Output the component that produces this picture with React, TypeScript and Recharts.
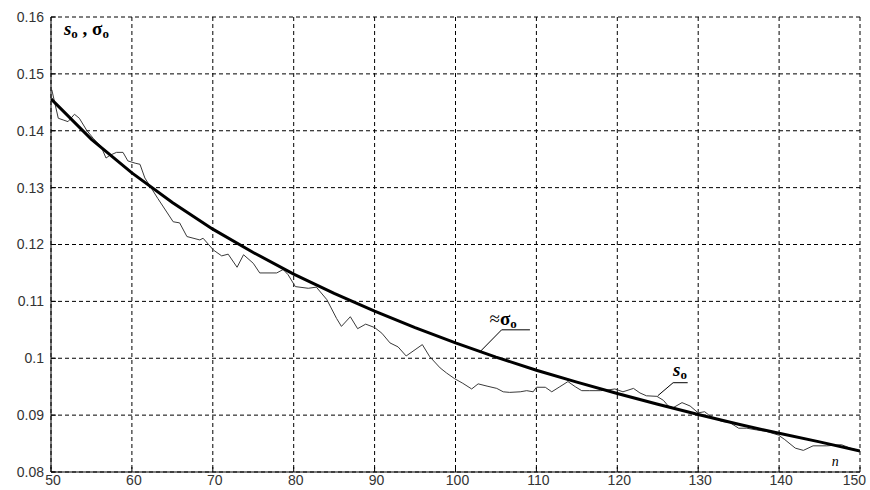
import { CartesianGrid, Line, LineChart, ReferenceDot, ReferenceLine, XAxis, YAxis } from "recharts";

// n axis and value axis ticks
const nTicks = [50, 60, 70, 80, 90, 100, 110, 120, 130, 140, 150];
const valueTicks = [0.08, 0.09, 0.1, 0.11, 0.12, 0.13, 0.14, 0.15, 0.16];

// smooth curve (thick), read every 5 steps of n
const sigmaN = [50, 55, 60, 65, 70, 75, 80, 85, 90, 95, 100, 105, 110, 115, 120, 125, 130, 135, 140, 145, 150];
const sigmaValues = [
  0.1456, 0.1385, 0.1326, 0.1274, 0.1227, 0.1186, 0.1148, 0.1114, 0.1083, 0.1054, 0.1027,
  0.1002, 0.0979, 0.0958, 0.0938, 0.0919, 0.0901, 0.0884, 0.0868, 0.0853, 0.0837,
];

// noisy estimate s0 (thin)
const sN = [
  50.1, 50.9, 51.5, 52.1, 52.9, 53.5, 54.4, 55.2, 56.2, 56.8, 57.3, 58.1, 58.9, 59.5, 60.4, 61.0,
  61.6, 62.4, 63.2, 65.1, 65.9, 66.8, 68.4, 68.8, 70.1, 71.1, 71.9, 73.0, 73.8, 75.0, 75.8, 77.9,
  78.7, 79.3, 80.2, 81.8, 82.8, 84.1, 85.3, 85.9, 87.0, 87.9, 88.9, 90.0, 90.9, 91.9, 92.9, 93.9,
  95.0, 95.9, 96.8, 98.1, 98.9, 99.9, 100.9, 102.0, 102.8, 103.9, 105.1, 105.9, 106.7, 108.0, 108.8,
  109.6, 110.0, 111.1, 111.9, 112.9, 113.9, 114.8, 115.6, 116.6, 117.9, 118.7, 119.7, 120.7, 122.0,
  122.8, 123.6, 124.9, 125.7, 126.3, 126.9, 128.0, 129.0, 130.0, 130.8, 131.5, 132.9, 133.9, 135.0,
  136.0, 137.2, 138.5, 139.9, 140.7, 142.0, 143.0, 144.2, 145.9, 147.7, 148.8, 149.8,
];
const sValues = [
  0.1472, 0.1422, 0.1419, 0.1416, 0.1429, 0.1422, 0.1401, 0.1387, 0.1372, 0.1352, 0.1357, 0.1362,
  0.1362, 0.1347, 0.1343, 0.1341, 0.1317, 0.1299, 0.1281, 0.124, 0.1238, 0.1214, 0.1208, 0.1211,
  0.119, 0.118, 0.1183, 0.116, 0.1182, 0.1167, 0.115, 0.115, 0.1156, 0.1147, 0.1126, 0.1123, 0.1125,
  0.1103, 0.107, 0.1056, 0.1073, 0.1052, 0.106, 0.1054, 0.1044, 0.1027, 0.102, 0.1004, 0.1015,
  0.1024, 0.1003, 0.0983, 0.0974, 0.0964, 0.0956, 0.0946, 0.0955, 0.0951, 0.0947, 0.0941, 0.094,
  0.0941, 0.0943, 0.0941, 0.0949, 0.0949, 0.0941, 0.095, 0.0959, 0.095, 0.0943, 0.0943, 0.0943,
  0.0944, 0.0946, 0.0941, 0.0947, 0.0939, 0.0934, 0.0933, 0.0926, 0.0916, 0.0913, 0.0922, 0.0916,
  0.0904, 0.0906, 0.0898, 0.0889, 0.0887, 0.0877, 0.0877, 0.0874, 0.0871, 0.0865, 0.0857, 0.0842,
  0.0838, 0.0846, 0.0846, 0.0848, 0.0842, 0.0838,
];

const sigmaData = sigmaN.map((n, i) => ({ n, v: sigmaValues[i] }));
const sData = sN.map((n, i) => ({ n, v: sValues[i] }));

const serif = "'Times New Roman', 'Liberation Serif', serif";
const sans = "Arial, 'Liberation Sans', sans-serif";

const fmt = (v: number) => String(Number(v.toFixed(2)));

// bottom tick labels; first nudged right, last kept inside the frame
function NTick(p: any) {
  const v = p.payload.value;
  const last = v === nTicks[nTicks.length - 1];
  return (
    <text
      x={p.x + (last ? 6 : 2)}
      y={p.y + 10}
      textAnchor={last ? "end" : "middle"}
      fontSize={14}
      fill="#333"
      fontFamily={sans}
    >
      {v}
    </text>
  );
}

function AxisTitle(p: any) {
  return (
    <text x={p.cx} y={p.cy} fontFamily={serif} fontWeight="bold" fontSize={19} fill="#000">
      <tspan fontStyle="italic">s</tspan>
      <tspan fontSize={13} dy={3}>o</tspan>
      <tspan dy={-3}> , </tspan>
      <tspan>σ</tspan>
      <tspan fontSize={13} dy={3}>o</tspan>
    </text>
  );
}

function SigmaLabel(p: any) {
  return (
    <text x={p.cx} y={p.cy} fontFamily={serif} fontWeight="bold" fontSize={19} fill="#000">
      <tspan fontWeight="normal">≈</tspan>
      <tspan>σ</tspan>
      <tspan fontSize={13} dy={3}>o</tspan>
    </text>
  );
}

function SLabel(p: any) {
  return (
    <text x={p.cx} y={p.cy} fontFamily={serif} fontWeight="bold" fontSize={19} fill="#000">
      <tspan fontStyle="italic">s</tspan>
      <tspan fontSize={13} dy={3}>o</tspan>
    </text>
  );
}

function NLabel(p: any) {
  return (
    <text x={p.cx} y={p.cy} fontFamily={serif} fontStyle="italic" fontSize={14} fill="#000">
      n
    </text>
  );
}

export default function App() {
  return (
    <div style={{ position: "absolute", left: 0, top: 0, background: "#fff" }}>
      <LineChart width={870} height={490} margin={{ top: 17, right: 10, left: 0, bottom: 0 }}>
        <CartesianGrid strokeDasharray="4 3" stroke="#000" />
        <XAxis
          dataKey="n"
          type="number"
          domain={[50, 150]}
          ticks={nTicks}
          interval={0}
          allowDataOverflow
          height={18}
          tickSize={-5}
          tickMargin={8}
          axisLine={{ stroke: "#000" }}
          tickLine={{ stroke: "#000" }}
          tick={NTick}
        />
        <XAxis
          xAxisId="top"
          orientation="top"
          type="number"
          domain={[50, 150]}
          ticks={nTicks}
          interval={0}
          height={0}
          tickSize={-5}
          tick={false}
          axisLine={{ stroke: "#000" }}
          tickLine={{ stroke: "#000" }}
        />
        <YAxis
          type="number"
          domain={[0.08, 0.16]}
          ticks={valueTicks}
          interval={0}
          allowDataOverflow
          width={51}
          tickSize={-5}
          tickMargin={12}
          tickFormatter={fmt}
          axisLine={{ stroke: "#000" }}
          tickLine={{ stroke: "#000" }}
          tick={{ fontSize: 14, fill: "#333", fontFamily: sans }}
        />
        <YAxis
          yAxisId="right"
          orientation="right"
          type="number"
          domain={[0.08, 0.16]}
          ticks={valueTicks}
          interval={0}
          width={0}
          tickSize={-5}
          tick={false}
          axisLine={{ stroke: "#000" }}
          tickLine={{ stroke: "#000" }}
        />
        <Line
          data={sData}
          dataKey="v"
          type="linear"
          stroke="#3a3a3a"
          strokeWidth={1}
          dot={false}
          isAnimationActive={false}
        />
        <Line
          data={sigmaData}
          dataKey="v"
          type="linear"
          stroke="#000"
          strokeWidth={3}
          dot={false}
          isAnimationActive={false}
        />
        {/* leader lines */}
        <ReferenceLine segment={[{ x: 103.0, y: 0.1011 }, { x: 105.7, y: 0.105 }]} stroke="#000" />
        <ReferenceLine segment={[{ x: 105.7, y: 0.105 }, { x: 109.2, y: 0.105 }]} stroke="#000" />
        <ReferenceLine segment={[{ x: 125.0, y: 0.0934 }, { x: 126.9, y: 0.0957 }]} stroke="#000" />
        <ReferenceLine segment={[{ x: 126.9, y: 0.0957 }, { x: 128.7, y: 0.0957 }]} stroke="#000" />
        <ReferenceDot x={51.6} y={0.1568} r={1} shape={AxisTitle} />
        <ReferenceDot x={104.2} y={0.1059} r={1} shape={SigmaLabel} />
        <ReferenceDot x={126.9} y={0.0968} r={1} shape={SLabel} />
        <ReferenceDot x={146.5} y={0.0811} r={1} shape={NLabel} />
      </LineChart>
    </div>
  );
}
